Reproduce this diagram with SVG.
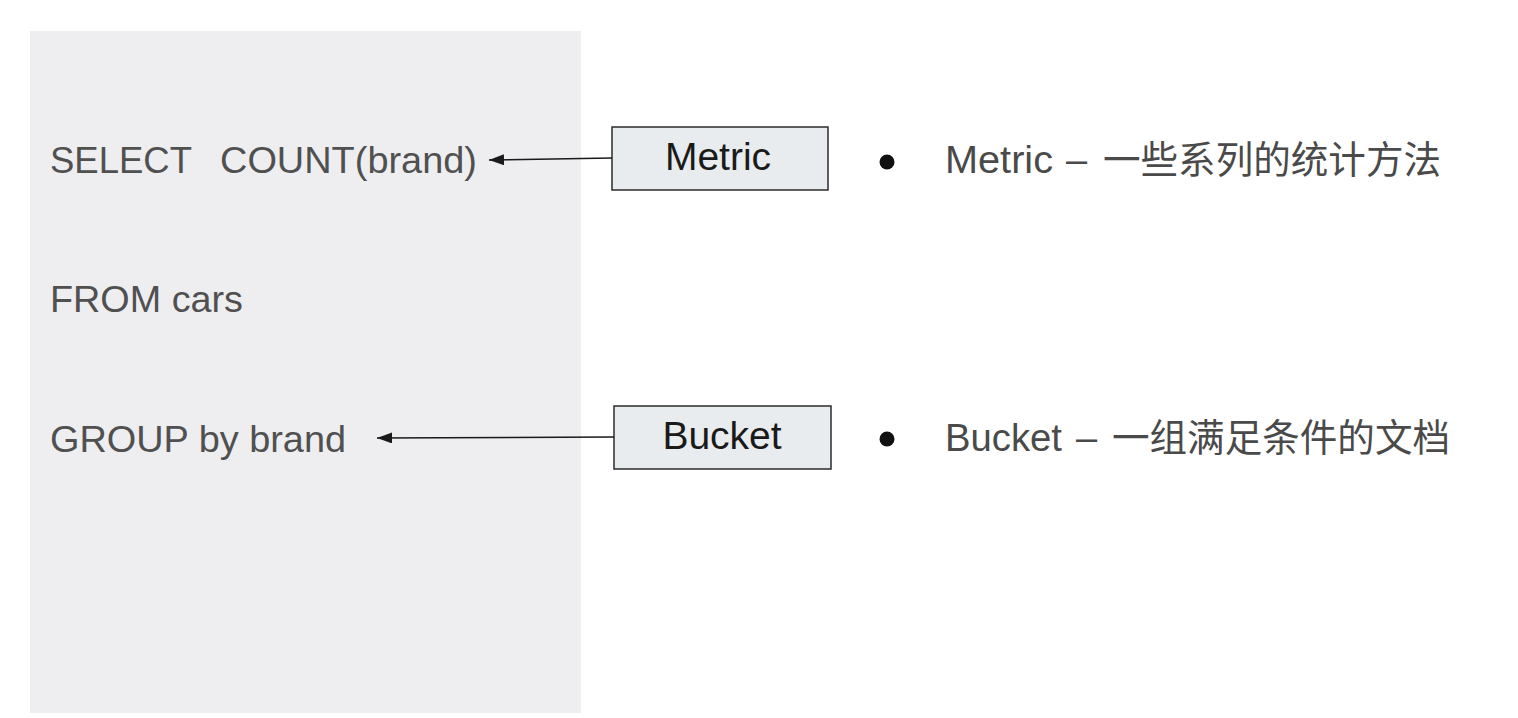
<svg xmlns="http://www.w3.org/2000/svg" width="1518" height="718" viewBox="0 0 1518 718">
<style>
.sql{font-family:"Liberation Sans",Arial,sans-serif;font-size:37px;fill:#505050;}
.box{fill:#E8ECEE;stroke:#2b2b2b;stroke-width:1.5;}
.lbl{font-family:"Liberation Sans",Arial,sans-serif;font-size:39px;fill:#1a1a1a;text-anchor:middle;}
.desc{font-family:"Liberation Sans","Noto Sans CJK SC",sans-serif;font-size:38px;fill:#4a4a4a;}
.cjk{font-family:"Noto Sans CJK SC",sans-serif;font-size:38px;fill:#4a4a4a;}
.conn{stroke:#1a1a1a;stroke-width:1.5;fill:none;marker-end:url(#ah);}
.dot{fill:#111;}
</style>
<defs>
<marker id="ah" viewBox="0 0 15 11" refX="15" refY="5.5" markerWidth="15" markerHeight="11" markerUnits="userSpaceOnUse" orient="auto">
<path d="M0,0 L15,5.5 L0,11 Z" fill="#1a1a1a"/>
</marker>
</defs>
<rect x="0" y="0" width="1518" height="718" fill="#ffffff"/>
<g id="sql-panel">
<rect x="30" y="31" width="551" height="682" fill="#EEEEF0"/>
<text class="sql" x="50" y="173" textLength="142" lengthAdjust="spacingAndGlyphs">SELECT</text>
<text class="sql" x="220" y="173" textLength="257" lengthAdjust="spacingAndGlyphs">COUNT(brand)</text>
<text class="sql" x="50" y="312" textLength="193" lengthAdjust="spacingAndGlyphs">FROM cars</text>
<text class="sql" x="50" y="452" textLength="296" lengthAdjust="spacingAndGlyphs">GROUP by brand</text>
</g>
<g id="metric">
<rect class="box" x="612" y="127" width="216" height="63"/>
<text class="lbl" x="718" y="170">Metric</text>
</g>
<g id="bucket">
<rect class="box" x="614" y="406" width="217" height="63"/>
<text class="lbl" x="722" y="449">Bucket</text>
</g>
<g id="connectors">
<line class="conn" x1="612" y1="158" x2="489" y2="160"/>
<line class="conn" x1="614" y1="437" x2="377" y2="438"/>
</g>
<g id="metric-desc">
<circle class="dot" cx="887" cy="162" r="7.5"/>
<text class="desc" x="945" y="173" textLength="108" lengthAdjust="spacingAndGlyphs">Metric</text>
<text class="desc" x="1066" y="173">–</text>
<text class="cjk" x="1103" y="173" textLength="338" lengthAdjust="spacingAndGlyphs">一些系列的统计方法</text>
</g>
<g id="bucket-desc">
<circle class="dot" cx="887" cy="439" r="7.5"/>
<text class="desc" x="945" y="451" textLength="117" lengthAdjust="spacingAndGlyphs">Bucket</text>
<text class="desc" x="1076" y="451">–</text>
<text class="cjk" x="1112" y="451" textLength="338" lengthAdjust="spacingAndGlyphs">一组满足条件的文档</text>
</g>
</svg>
